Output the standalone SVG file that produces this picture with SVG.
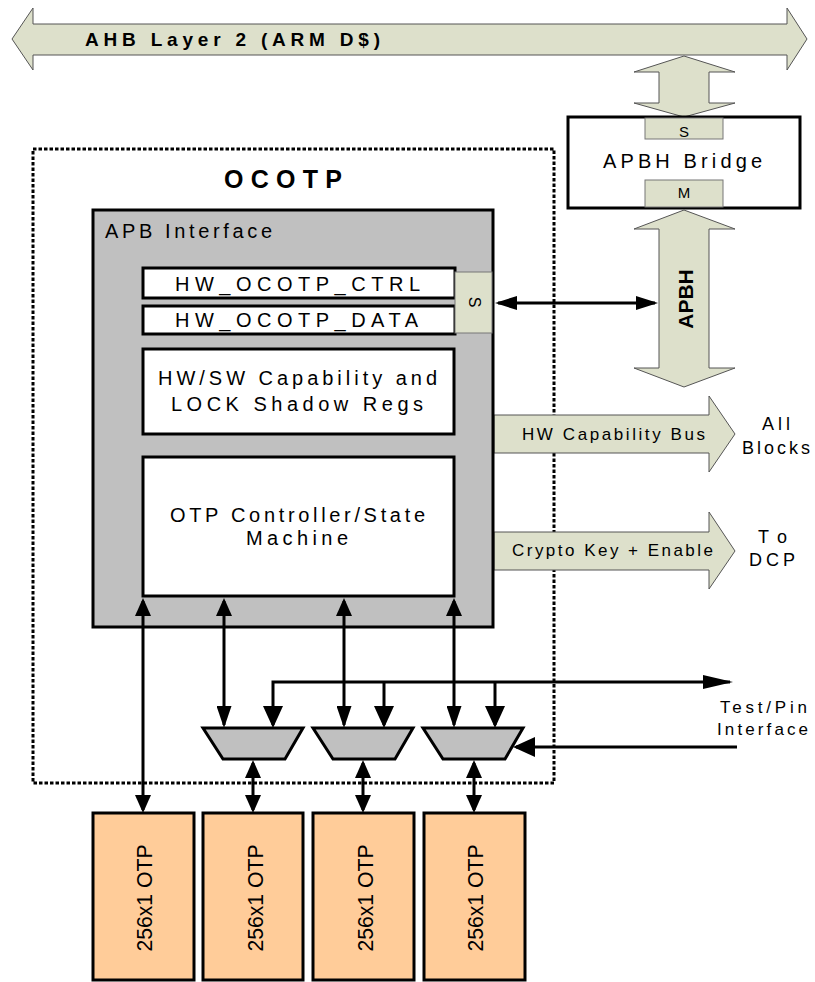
<svg xmlns="http://www.w3.org/2000/svg" width="815" height="982" viewBox="0 0 815 982">
<style>
text{font-family:"Liberation Sans",Arial,sans-serif;fill:#000}
.bus{fill:#dde0cb;stroke:#555;stroke-width:1}
.box{fill:#fff;stroke:#000;stroke-width:3}
.gray{fill:#c0c0c0;stroke:#000;stroke-width:3}
.port{fill:#dde0cb;stroke:#777;stroke-width:1}
.otp{fill:#ffcc99;stroke:#000;stroke-width:3}
.ln{fill:none;stroke:#000;stroke-width:3}
</style>
<defs>
<marker id="m" markerUnits="userSpaceOnUse" markerWidth="18" markerHeight="16" refX="15" refY="8" orient="auto-start-reverse"><path d="M0,0 L18,8 L0,16 z" fill="#000"/></marker>
<marker id="mh" markerUnits="userSpaceOnUse" markerWidth="22" markerHeight="14" refX="19" refY="7" orient="auto-start-reverse"><path d="M0,0 L22,7 L0,14 z" fill="#000"/></marker>
<marker id="mb" markerUnits="userSpaceOnUse" markerWidth="22" markerHeight="20" refX="19" refY="10" orient="auto-start-reverse"><path d="M0,0 L22,10 L0,20 z" fill="#000"/></marker>
<marker id="mv" markerUnits="userSpaceOnUse" markerWidth="22" markerHeight="15" refX="19" refY="7.5" orient="auto-start-reverse"><path d="M0,0 L22,7.5 L0,15 z" fill="#000"/></marker>
<marker id="mt" markerUnits="userSpaceOnUse" markerWidth="30" markerHeight="14" refX="27" refY="7" orient="auto-start-reverse"><path d="M0,0 L30,7 L0,14 z" fill="#000"/></marker>
</defs>

<g id="ahb-bus">
<polygon class="bus" points="12,39 33,8 33,24 787,24 787,8 807,39 787,70 787,55 33,55 33,70"/>
<text x="85" y="46" font-size="19" font-weight="bold" textLength="295" lengthAdjust="spacing">AHB Layer 2 (ARM D$)</text>
</g>

<g id="ahb-bridge-link">
<polygon class="bus" points="684,56 735,72 709,72 709,103 735,103 684,117 634,103 659,103 659,72 634,72"/>
</g>

<g id="apbh-bridge">
<rect class="box" x="568" y="117" width="232" height="91"/>
<rect class="port" x="645" y="118" width="78" height="21"/>
<text x="684" y="137" font-size="15" text-anchor="middle">S</text>
<rect class="port" x="645" y="180" width="78" height="27"/>
<text x="684" y="198" font-size="15" text-anchor="middle">M</text>
<text x="603" y="168" font-size="20" textLength="159" lengthAdjust="spacing">APBH Bridge</text>
</g>

<g id="apbh-bus">
<polygon class="bus" points="684,210 735,229 709,229 709,368 735,368 684,387 634,368 659,368 659,229 634,229"/>
<text transform="translate(693,299) rotate(-90)" font-size="21" font-weight="bold" text-anchor="middle">APBH</text>
</g>

<g id="ocotp">
<rect x="33" y="149" width="521" height="634" fill="none" stroke="#000" stroke-width="3" stroke-dasharray="3.5,2"/>
<text x="224" y="188" font-size="25" font-weight="bold" textLength="118" lengthAdjust="spacing">OCOTP</text>
</g>

<g id="hw-cap-bus">
<polygon class="bus" points="494,415 709,415 709,396 735,434 709,472 709,453 494,453"/>
<text x="522" y="440" font-size="17" textLength="183" lengthAdjust="spacing">HW Capability Bus</text>
<text x="776" y="430" font-size="18" text-anchor="middle" textLength="28" lengthAdjust="spacing">All</text>
<text x="742" y="454" font-size="18" textLength="68" lengthAdjust="spacing">Blocks</text>
</g>

<g id="crypto-bus">
<polygon class="bus" points="494,532 709,532 709,512 735,551 709,589 709,570 494,570"/>
<text x="512" y="556" font-size="17" textLength="201" lengthAdjust="spacing">Crypto Key + Enable</text>
<text x="758" y="543" font-size="18" textLength="29" lengthAdjust="spacing">To</text>
<text x="749" y="566" font-size="18" textLength="46" lengthAdjust="spacing">DCP</text>
</g>

<g id="apb-interface">
<rect class="gray" x="93" y="210" width="400" height="417"/>
<text x="105" y="238" font-size="20" textLength="167" lengthAdjust="spacing">APB Interface</text>
</g>

<g id="reg-ctrl">
<rect class="box" x="143" y="268" width="312" height="30"/>
<text x="175" y="291" font-size="20" textLength="245" lengthAdjust="spacing">HW_OCOTP_CTRL</text>
</g>
<g id="reg-data">
<rect class="box" x="143" y="306" width="312" height="28"/>
<text x="175" y="327" font-size="20" textLength="243" lengthAdjust="spacing">HW_OCOTP_DATA</text>
</g>
<g id="apb-slave-port">
<rect class="port" x="455" y="272" width="37" height="61"/>
<text transform="translate(469,302) rotate(90)" font-size="16" text-anchor="middle">S</text>
</g>

<g id="shadow-regs">
<rect class="box" x="143" y="349" width="311" height="85"/>
<text x="158" y="385" font-size="20" textLength="279" lengthAdjust="spacing">HW/SW Capability and</text>
<text x="171" y="411" font-size="20" textLength="252" lengthAdjust="spacing">LOCK Shadow Regs</text>
</g>

<g id="otp-controller">
<rect class="box" x="143" y="457" width="311" height="139"/>
<text x="170" y="522" font-size="20" textLength="255" lengthAdjust="spacing">OTP Controller/State</text>
<text x="246" y="545" font-size="20" textLength="102" lengthAdjust="spacing">Machine</text>
</g>

<g id="mux1"><polygon class="gray" points="203,728 303,728 285,759 223,759"/></g>
<g id="mux2"><polygon class="gray" points="313,728 413,728 395,759 333,759"/></g>
<g id="mux3"><polygon class="gray" points="423,728 523,728 505,759 443,759"/></g>

<g id="otp1"><rect class="otp" x="93" y="813" width="101" height="167"/><text transform="translate(152,898) rotate(-90)" font-size="22" text-anchor="middle" textLength="107" lengthAdjust="spacingAndGlyphs">256x1 OTP</text></g>
<g id="otp2"><rect class="otp" x="203" y="813" width="100" height="167"/><text transform="translate(262.5,898) rotate(-90)" font-size="22" text-anchor="middle" textLength="107" lengthAdjust="spacingAndGlyphs">256x1 OTP</text></g>
<g id="otp3"><rect class="otp" x="313" y="813" width="101" height="167"/><text transform="translate(373,898) rotate(-90)" font-size="22" text-anchor="middle" textLength="107" lengthAdjust="spacingAndGlyphs">256x1 OTP</text></g>
<g id="otp4"><rect class="otp" x="424" y="813" width="101" height="167"/><text transform="translate(483,898) rotate(-90)" font-size="22" text-anchor="middle" textLength="107" lengthAdjust="spacingAndGlyphs">256x1 OTP</text></g>

<g id="test-pin-label">
<text x="720" y="713" font-size="17" textLength="87" lengthAdjust="spacing">Test/Pin</text>
<text x="717" y="735" font-size="17" textLength="91" lengthAdjust="spacing">Interface</text>
</g>

<g id="connectors">
<line class="ln" x1="498" y1="303" x2="655" y2="303" marker-start="url(#mh)" marker-end="url(#mh)"/>
<line class="ln" x1="143" y1="601" x2="143" y2="810" marker-start="url(#m)" marker-end="url(#m)"/>
<line class="ln" x1="224" y1="601" x2="224" y2="725" marker-start="url(#m)" marker-end="url(#mv)"/>
<line class="ln" x1="344" y1="601" x2="344" y2="725" marker-start="url(#m)" marker-end="url(#mv)"/>
<line class="ln" x1="454" y1="601" x2="454" y2="725" marker-start="url(#m)" marker-end="url(#mv)"/>
<line class="ln" x1="253" y1="763" x2="253" y2="810" marker-start="url(#m)" marker-end="url(#m)"/>
<line class="ln" x1="363" y1="763" x2="363" y2="810" marker-start="url(#m)" marker-end="url(#m)"/>
<line class="ln" x1="474" y1="763" x2="474" y2="810" marker-start="url(#m)" marker-end="url(#m)"/>
<path class="ln" d="M273,725 V682 H730" marker-start="url(#mb)" marker-end="url(#mt)"/>
<line class="ln" x1="384" y1="682" x2="384" y2="725" marker-end="url(#mb)"/>
<line class="ln" x1="495" y1="682" x2="495" y2="725" marker-end="url(#mb)"/>
<line class="ln" x1="737" y1="747" x2="516" y2="747" marker-end="url(#mb)"/>
</g>
</svg>
